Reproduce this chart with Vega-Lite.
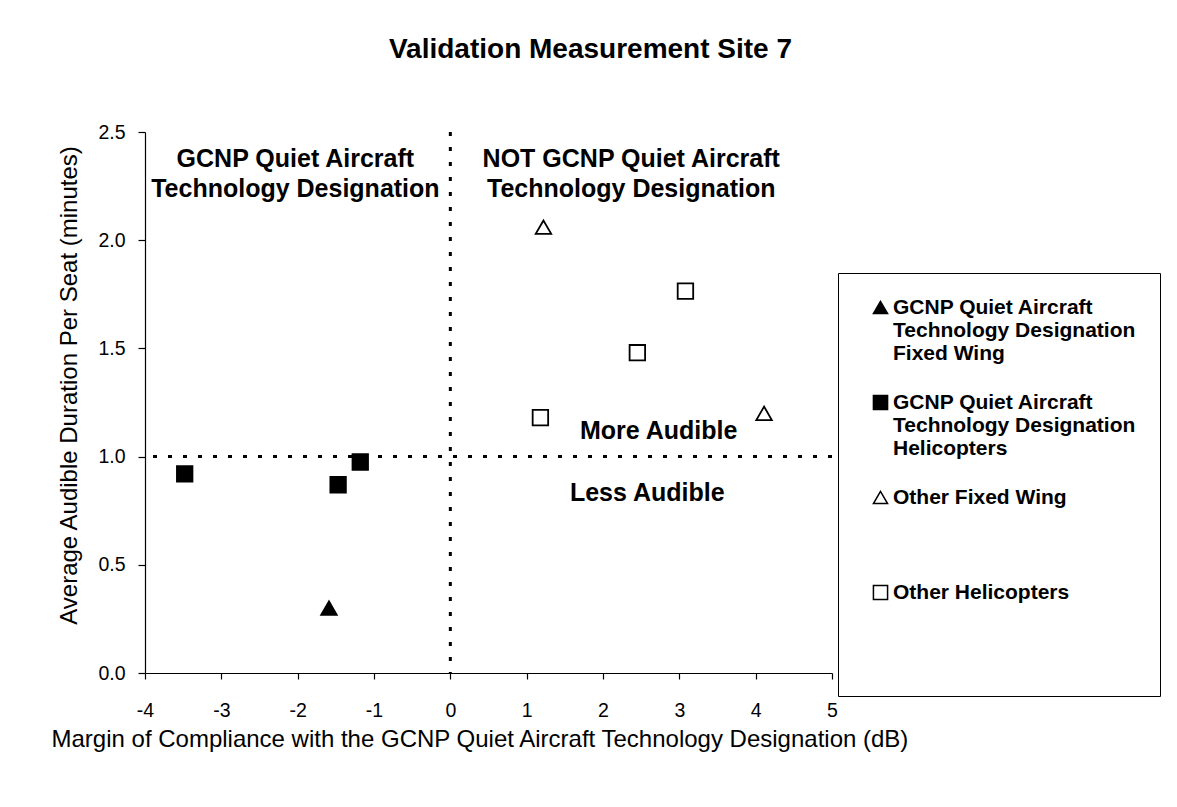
{
  "$schema": "https://vega.github.io/schema/vega-lite/v6.json",
  "autosize": {"type": "none"},
  "padding": {"left": 145, "top": 132, "right": 345, "bottom": 134},
  "width": 687,
  "height": 541,
  "background": "white",
  "title": {
    "text": "Validation Measurement Site 7",
    "font": "Liberation Sans",
    "fontSize": 28,
    "fontWeight": "bold",
    "color": "black",
    "anchor": "middle",
    "frame": "group",
    "dx": 102,
    "offset": 58
  },
  "config": {
    "view": {"stroke": null},
    "axis": {
      "grid": false,
      "domainColor": "black",
      "domainWidth": 1.2,
      "tickColor": "black",
      "tickWidth": 1.2,
      "labelColor": "black",
      "titleColor": "black",
      "labelFont": "Liberation Sans",
      "titleFont": "Liberation Sans",
      "titleFontWeight": "normal",
      "labelFontSize": 19.5,
      "titleFontSize": 24
    },
    "legend": {
      "title": null,
      "orient": "none",
      "legendX": 693,
      "legendY": 141,
      "strokeColor": "black",
      "fillColor": "white",
      "padding": 24,
      "symbolOffset": 8,
      "labelOffset": 2,
      "labelFont": "Liberation Sans",
      "labelFontSize": 21,
      "labelFontWeight": "bold",
      "labelColor": "black",
      "labelLimit": 400,
      "symbolSize": 200,
      "symbolStrokeWidth": 1.5,
      "symbolStrokeColor": "black",
      "rowPadding": 27
    }
  },
  "layer": [
    {
      "data": {"values": [{"ref": 1}]},
      "mark": {"type": "rule", "strokeDash": [4, 11], "strokeWidth": 3, "color": "black"},
      "encoding": {"y": {"field": "ref", "type": "quantitative"}}
    },
    {
      "data": {"values": [{"ref": 0}]},
      "mark": {"type": "rule", "strokeDash": [4, 11], "strokeWidth": 3, "color": "black"},
      "encoding": {"x": {"field": "ref", "type": "quantitative"}}
    },
    {
      "data": {
        "values": [
          {"series": "GCNP Quiet Aircraft|Technology Designation|Fixed Wing", "x": -1.59, "y": 0.3},
          {"series": "GCNP Quiet Aircraft|Technology Designation|Helicopters", "x": -3.48, "y": 0.92},
          {"series": "GCNP Quiet Aircraft|Technology Designation|Helicopters", "x": -1.47, "y": 0.87},
          {"series": "GCNP Quiet Aircraft|Technology Designation|Helicopters", "x": -1.18, "y": 0.975},
          {"series": "Other Fixed Wing||", "x": 1.22, "y": 2.06},
          {"series": "Other Fixed Wing||", "x": 4.11, "y": 1.2},
          {"series": "Other Helicopters|||", "x": 1.18, "y": 1.18},
          {"series": "Other Helicopters|||", "x": 2.45, "y": 1.48},
          {"series": "Other Helicopters|||", "x": 3.08, "y": 1.765}
        ]
      },
      "mark": {"type": "point", "filled": true, "strokeWidth": 1.8, "size": 240, "opacity": 1},
      "encoding": {
        "x": {
          "field": "x",
          "type": "quantitative",
          "scale": {"domain": [-4, 5], "nice": false, "zero": false},
          "axis": {
            "values": [-4, -3, -2, -1, 0, 1, 2, 3, 4, 5],
            "labelExpr": "datum.value < 0 ? '-' + abs(datum.value) : '' + datum.value",
            "labelFlush": false,
            "tickSize": 6,
            "labelPadding": 22,
            "title": "Margin of Compliance with the GCNP Quiet Aircraft Technology Designation (dB)",
            "titleAnchor": "start",
            "titleAlign": "left",
            "titleX": -94,
            "titleY": 66,
            "titleBaseline": "middle"
          }
        },
        "y": {
          "field": "y",
          "type": "quantitative",
          "scale": {"domain": [0, 2.5], "nice": false},
          "axis": {
            "values": [0, 0.5, 1, 1.5, 2, 2.5],
            "format": ".1f",
            "tickSize": 7,
            "labelPadding": 13,
            "title": "Average Audible Duration Per Seat (minutes)",
            "titleAngle": 270,
            "titleAlign": "center",
            "titleBaseline": "middle",
            "titleX": -76,
            "titleY": 253
          }
        },
        "shape": {
          "field": "series",
          "type": "nominal",
          "scale": {
            "domain": [
              "GCNP Quiet Aircraft|Technology Designation|Fixed Wing",
              "GCNP Quiet Aircraft|Technology Designation|Helicopters",
              "Other Fixed Wing||",
              "Other Helicopters|||"
            ],
            "range": ["triangle-up", "square", "triangle-up", "square"]
          },
          "legend": {
            "labelExpr": "split(datum.label, '|')",
            "encode": {"labels": {"update": {"lineHeight": {"value": 23}}}}
          }
        },
        "fill": {
          "field": "series",
          "type": "nominal",
          "scale": {
            "domain": [
              "GCNP Quiet Aircraft|Technology Designation|Fixed Wing",
              "GCNP Quiet Aircraft|Technology Designation|Helicopters",
              "Other Fixed Wing||",
              "Other Helicopters|||"
            ],
            "range": ["black", "black", "white", "white"]
          },
          "legend": {
            "labelExpr": "split(datum.label, '|')",
            "encode": {"labels": {"update": {"lineHeight": {"value": 23}}}}
          }
        },
        "stroke": {
          "field": "series",
          "type": "nominal",
          "scale": {
            "domain": [
              "GCNP Quiet Aircraft|Technology Designation|Fixed Wing",
              "GCNP Quiet Aircraft|Technology Designation|Helicopters",
              "Other Fixed Wing||",
              "Other Helicopters|||"
            ],
            "range": ["black", "black", "black", "black"]
          },
          "legend": {
            "labelExpr": "split(datum.label, '|')",
            "encode": {"labels": {"update": {"lineHeight": {"value": 23}}}}
          }
        }
      }
    },
    {
      "data": {
        "values": [
          {"label": "GCNP Quiet Aircraft|Technology Designation", "x": -2.03, "y": 2.375},
          {"label": "NOT GCNP Quiet Aircraft|Technology Designation", "x": 2.37, "y": 2.375},
          {"label": "More Audible", "x": 2.73, "y": 1.12},
          {"label": "Less Audible", "x": 2.58, "y": 0.83}
        ]
      },
      "mark": {
        "type": "text",
        "font": "Liberation Sans",
        "fontSize": 25,
        "fontWeight": "bold",
        "color": "black",
        "align": "center",
        "baseline": "middle",
        "lineBreak": "|",
        "lineHeight": 30
      },
      "encoding": {
        "x": {"field": "x", "type": "quantitative"},
        "y": {"field": "y", "type": "quantitative"},
        "text": {"field": "label", "type": "nominal"}
      }
    }
  ]
}
